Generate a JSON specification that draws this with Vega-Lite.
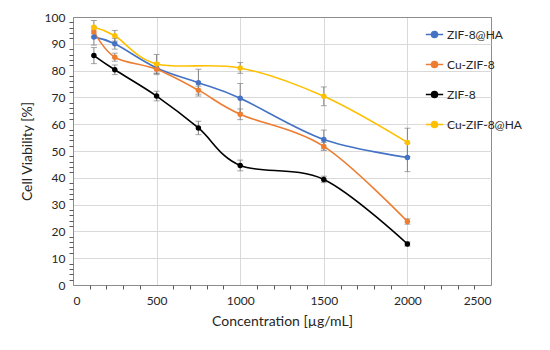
{
  "$schema": "https://vega.github.io/schema/vega-lite/v6.json",
  "autosize": "none",
  "padding": {"left": 73, "top": 17, "right": 59, "bottom": 65},
  "width": 418,
  "height": 268,
  "background": "white",
  "config": {
    "font": "Lato",
    "view": {"stroke": "#8c8c8c", "strokeWidth": 1}
  },
  "data": {
    "values": [
      {"series": "ZIF-8@HA", "x": 125, "v": 92.5, "err": 3},
      {"series": "ZIF-8@HA", "x": 250, "v": 90, "err": 2},
      {"series": "ZIF-8@HA", "x": 500, "v": 81, "err": 2},
      {"series": "ZIF-8@HA", "x": 750, "v": 75.5, "err": 5},
      {"series": "ZIF-8@HA", "x": 1000, "v": 69.7, "err": 5.5},
      {"series": "ZIF-8@HA", "x": 1500, "v": 54.3, "err": 3.5},
      {"series": "ZIF-8@HA", "x": 2000, "v": 47.6, "err": 5.3},
      {"series": "Cu-ZIF-8", "x": 125, "v": 94.5, "err": 2},
      {"series": "Cu-ZIF-8", "x": 250, "v": 85, "err": 1.5},
      {"series": "Cu-ZIF-8", "x": 500, "v": 80.5, "err": 2},
      {"series": "Cu-ZIF-8", "x": 750, "v": 72.7, "err": 1.5},
      {"series": "Cu-ZIF-8", "x": 1000, "v": 63.7, "err": 2},
      {"series": "Cu-ZIF-8", "x": 1500, "v": 51.7, "err": 1.5},
      {"series": "Cu-ZIF-8", "x": 2000, "v": 23.7, "err": 1},
      {"series": "ZIF-8", "x": 125, "v": 85.6, "err": 3},
      {"series": "ZIF-8", "x": 250, "v": 80.3, "err": 1.8},
      {"series": "ZIF-8", "x": 500, "v": 70.5, "err": 1.8},
      {"series": "ZIF-8", "x": 750, "v": 58.6, "err": 2.5},
      {"series": "ZIF-8", "x": 1000, "v": 44.6, "err": 2},
      {"series": "ZIF-8", "x": 1500, "v": 39.4, "err": 1.2},
      {"series": "ZIF-8", "x": 2000, "v": 15.3, "err": 0.8},
      {"series": "Cu-ZIF-8@HA", "x": 125, "v": 96.2, "err": 2.5},
      {"series": "Cu-ZIF-8@HA", "x": 250, "v": 93, "err": 2},
      {"series": "Cu-ZIF-8@HA", "x": 500, "v": 82.5, "err": 3.5},
      {"series": "Cu-ZIF-8@HA", "x": 1000, "v": 81, "err": 2},
      {"series": "Cu-ZIF-8@HA", "x": 1500, "v": 70.4, "err": 3.5},
      {"series": "Cu-ZIF-8@HA", "x": 2000, "v": 53.2, "err": 5.3}
    ]
  },
  "resolve": {"scale": {"x": "independent", "y": "independent"}, "axis": {"x": "independent", "y": "independent"}},
  "layer": [
    {
      "mark": {"type": "errorbar", "ticks": {"size": 6}, "rule": {"strokeWidth": 1}, "color": "#808080"},
      "encoding": {
        "x": {
          "field": "x", "type": "quantitative",
          "scale": {"domain": [0, 2500], "nice": false},
          "axis": {"orient": "bottom", "values": [0,500,1000,1500,2000,2500], "format": "d", "grid": true,
                   "gridColor": {"condition": {"test": "datum.value == 2500", "value": "#8c8c8c"}, "value": "#d9d9d9"},
                   "ticks": false, "domainColor": "#8c8c8c", "labelFontSize": 12, "labelColor": "#262626", "labelPadding": 10, "title": "Concentration [µg/mL]", "titleFontSize": 14, "titleFontWeight": "normal", "titleColor": "#262626", "titlePadding": 8}
        },
        "y": {
          "field": "v", "type": "quantitative",
          "scale": {"domain": [0, 100], "nice": false},
          "axis": {"orient": "left", "values": [0,10,20,30,40,50,60,70,80,90,100], "grid": true,
                   "gridColor": {"condition": {"test": "datum.value == 100", "value": "#8c8c8c"}, "value": "#d9d9d9"},
                   "ticks": false, "domainColor": "#8c8c8c", "labelFontSize": 12, "labelColor": "#262626", "labelPadding": 8, "title": "Cell Viability [%]", "titleFontSize": 14, "titleFontWeight": "normal", "titleColor": "#262626", "titlePadding": 10}
        },
        "yError": {"field": "err"}
      }
    },
    {
      "mark": {"type": "line", "interpolate": "cardinal", "strokeWidth": 1.6, "point": {"filled": true, "size": 30, "opacity": 1}},
      "encoding": {
        "x": {
          "field": "x", "type": "quantitative",
          "scale": {"domain": [0, 2500], "nice": false},
          "axis": {"orient": "bottom", "values": [100,200,300,400,600,700,800,900,1100,1200,1300,1400,1600,1700,1800,1900,2100,2200,2300,2400], "labels": false, "grid": false, "domain": false, "ticks": true, "tickSize": 4, "tickWidth": 1, "tickColor": "#595959", "title": null}
        },
        "y": {
          "field": "v", "type": "quantitative",
          "scale": {"domain": [0, 100], "nice": false},
          "axis": {"orient": "left", "values": [2,4,6,8,12,14,16,18,22,24,26,28,32,34,36,38,42,44,46,48,52,54,56,58,62,64,66,68,72,74,76,78,82,84,86,88,92,94,96,98], "labels": false, "grid": false, "domain": false, "ticks": true, "tickSize": 4, "tickWidth": 1, "tickColor": "#595959", "title": null}
        },
        "color": {
          "field": "series", "type": "nominal",
          "scale": {"domain": ["ZIF-8@HA", "Cu-ZIF-8", "ZIF-8", "Cu-ZIF-8@HA"], "range": ["#4472C4", "#ED7D31", "#000000", "#FFC000"]},
          "legend": {"orient": "none", "legendX": 352, "legendY": 8, "title": null, "symbolType": "M-1,0H1M-0.35,0A0.35,0.35,0,1,1,0.35,0A0.35,0.35,0,1,1,-0.35,0Z", "symbolSize": 300, "symbolStrokeWidth": 1.5, "labelFontSize": 12, "labelColor": "#262626", "rowPadding": 14, "labelOffset": 3}
        }
      }
    }
  ]
}
